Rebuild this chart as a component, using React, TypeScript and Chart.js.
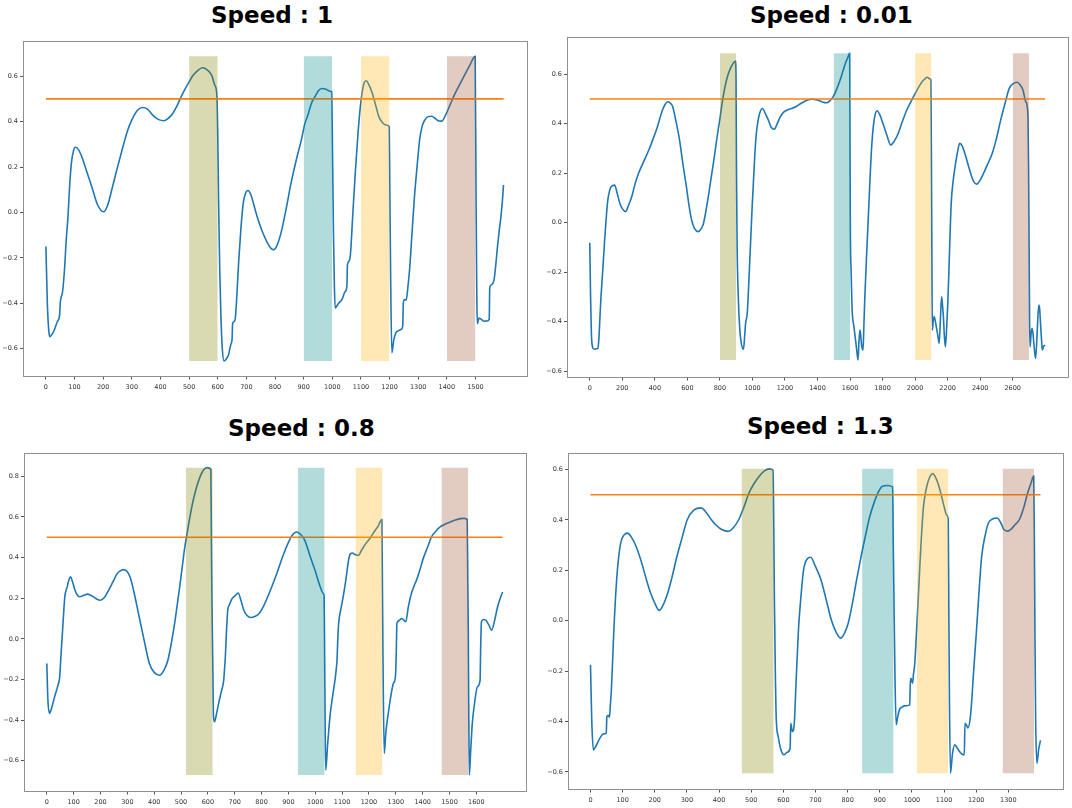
import React, { useEffect, useRef } from "react";
import { Chart, registerables } from "chart.js";

Chart.register(...registerables);

// series, [step, value]
const SPEED_1: [number, number][] = [
  [0, -0.15], [5, -0.4], [10, -0.52], [14, -0.547], [22, -0.535], [30, -0.515], [40, -0.48], [48, -0.45],
  [50, -0.4], [53, -0.375], [58, -0.35], [65, -0.25], [71, -0.12], [77, -0.02], [83, 0.12], [89, 0.217],
  [96, 0.27], [103, 0.287], [112, 0.28], [124, 0.25], [140, 0.19], [160, 0.114], [180, 0.035], [201, 0.003],
  [215, 0.03], [230, 0.1], [248, 0.19], [266, 0.275], [285, 0.36], [301, 0.41], [320, 0.45], [337, 0.462],
  [355, 0.455], [372, 0.43], [392, 0.41], [413, 0.404], [428, 0.415], [443, 0.436], [460, 0.475], [478, 0.524],
  [496, 0.566], [514, 0.604], [530, 0.625], [547, 0.637], [563, 0.628], [579, 0.604], [590, 0.56], [597, 0.517],
  [600, 0.35], [603, 0.05], [607, -0.25], [611, -0.45], [616, -0.6], [622, -0.654], [630, -0.645], [638, -0.625],
  [646, -0.58], [650, -0.56], [652, -0.49], [657, -0.48], [661, -0.47], [667, -0.36], [673, -0.22], [681, -0.07],
  [689, 0.04], [697, 0.085], [706, 0.097], [715, 0.08], [727, 0.03], [738, -0.02], [756, -0.085], [774, -0.135],
  [786, -0.158], [795, -0.164], [806, -0.148], [821, -0.09], [838, 0.01], [856, 0.129], [874, 0.23], [892, 0.319],
  [904, 0.39], [915, 0.429], [927, 0.48], [939, 0.509], [951, 0.535], [963, 0.546], [978, 0.543], [992, 0.534],
  [998, 0.531], [1001, 0.25], [1004, -0.076], [1007, -0.3], [1010, -0.42], [1022, -0.4], [1034, -0.383], [1044, -0.35],
  [1051, -0.325], [1053, -0.23], [1058, -0.215], [1063, -0.19], [1072, 0.0], [1081, 0.187], [1090, 0.35], [1098, 0.465],
  [1108, 0.555], [1118, 0.58], [1129, 0.56], [1140, 0.524], [1152, 0.47], [1163, 0.421], [1175, 0.396], [1187, 0.385],
  [1199, 0.378], [1201, 0.1], [1204, -0.3], [1208, -0.618], [1215, -0.56], [1222, -0.53], [1232, -0.52], [1240, -0.515],
  [1246, -0.5], [1248, -0.4], [1252, -0.383], [1258, -0.386], [1264, -0.33], [1270, -0.25], [1278, -0.1], [1287, 0.07],
  [1296, 0.2], [1305, 0.319], [1314, 0.38], [1323, 0.407], [1335, 0.422], [1347, 0.424], [1360, 0.413], [1372, 0.403],
  [1382, 0.402], [1394, 0.424], [1410, 0.47], [1429, 0.524], [1447, 0.568], [1465, 0.612], [1480, 0.648], [1494, 0.682],
  [1499, 0.688], [1502, 0.1], [1505, -0.4], [1507, -0.49], [1512, -0.465], [1520, -0.47], [1530, -0.479], [1540, -0.478],
  [1548, -0.471], [1550, -0.33], [1556, -0.318], [1565, -0.296], [1571, -0.23], [1577, -0.149], [1583, -0.08], [1589, -0.018],
  [1594, 0.05], [1598, 0.121],
];

const SPEED_001: [number, number][] = [
  [0, -0.081], [5, -0.3], [10, -0.45], [17, -0.502], [27, -0.512], [40, -0.51], [50, -0.508], [56, -0.47],
  [62, -0.39], [69, -0.3], [80, -0.19], [90, -0.084], [100, 0.01], [111, 0.092], [122, 0.13], [132, 0.146],
  [153, 0.152], [168, 0.12], [185, 0.078], [202, 0.055], [220, 0.045], [238, 0.07], [258, 0.105], [280, 0.16],
  [300, 0.2], [330, 0.245], [363, 0.294], [390, 0.34], [416, 0.388], [432, 0.425], [447, 0.456], [463, 0.478],
  [479, 0.489], [495, 0.484], [510, 0.469], [530, 0.41], [552, 0.334], [572, 0.24], [594, 0.146], [610, 0.07],
  [626, 0.011], [645, -0.025], [668, -0.036], [684, -0.025], [699, -0.003], [720, 0.07], [741, 0.159], [762, 0.25],
  [783, 0.348], [800, 0.42], [815, 0.489], [830, 0.545], [846, 0.59], [862, 0.62], [880, 0.643], [895, 0.654],
  [899, 0.6], [902, 0.2], [906, -0.1], [913, -0.3], [920, -0.407], [930, -0.481], [945, -0.512], [952, -0.46],
  [958, -0.407], [968, -0.367], [975, -0.28], [983, -0.164], [998, 0.06], [1014, 0.267], [1024, 0.36], [1035, 0.415],
  [1048, 0.45], [1062, 0.462], [1080, 0.44], [1098, 0.415], [1116, 0.385], [1134, 0.378], [1152, 0.4], [1172, 0.429],
  [1192, 0.447], [1214, 0.456], [1240, 0.462], [1266, 0.469], [1298, 0.482], [1329, 0.493], [1350, 0.498], [1371, 0.499],
  [1392, 0.497], [1413, 0.493], [1434, 0.487], [1455, 0.485], [1476, 0.493], [1497, 0.51], [1518, 0.54], [1539, 0.577],
  [1555, 0.61], [1571, 0.644], [1585, 0.666], [1598, 0.685], [1600, 0.3], [1602, -0.03], [1607, -0.2], [1613, -0.353],
  [1624, -0.42], [1634, -0.475], [1642, -0.52], [1649, -0.555], [1655, -0.48], [1661, -0.434], [1665, -0.45], [1670, -0.488],
  [1676, -0.512], [1680, -0.515], [1685, -0.42], [1691, -0.3], [1704, -0.1], [1718, 0.105], [1728, 0.25], [1739, 0.361],
  [1752, 0.43], [1766, 0.453], [1784, 0.435], [1802, 0.402], [1826, 0.355], [1850, 0.314], [1872, 0.33], [1896, 0.361],
  [1922, 0.41], [1949, 0.456], [1975, 0.49], [2001, 0.523], [2022, 0.548], [2043, 0.57], [2060, 0.582], [2075, 0.588],
  [2090, 0.582], [2097, 0.577], [2100, 0.3], [2103, -0.1], [2106, -0.434], [2111, -0.4], [2117, -0.38], [2122, -0.39],
  [2127, -0.407], [2138, -0.45], [2148, -0.488], [2155, -0.4], [2163, -0.3], [2168, -0.33], [2174, -0.38], [2180, -0.46],
  [2186, -0.502], [2193, -0.44], [2201, -0.326], [2210, -0.15], [2222, 0.078], [2236, 0.18], [2249, 0.24], [2262, 0.29],
  [2274, 0.321], [2290, 0.31], [2312, 0.267], [2330, 0.225], [2348, 0.186], [2364, 0.162], [2379, 0.156], [2400, 0.172],
  [2421, 0.2], [2448, 0.24], [2474, 0.28], [2500, 0.34], [2526, 0.415], [2552, 0.48], [2579, 0.543], [2603, 0.562],
  [2627, 0.568], [2645, 0.558], [2663, 0.537], [2680, 0.49], [2694, 0.435], [2698, 0.2], [2701, -0.1], [2704, -0.4],
  [2707, -0.502], [2713, -0.45], [2719, -0.427], [2725, -0.45], [2733, -0.51], [2741, -0.549], [2750, -0.45], [2755, -0.38],
  [2761, -0.333], [2766, -0.35], [2771, -0.407], [2777, -0.47], [2782, -0.515], [2790, -0.5], [2799, -0.495],
];

const SPEED_08: [number, number][] = [
  [0, -0.121], [4, -0.3], [10, -0.367], [18, -0.34], [29, -0.285], [40, -0.235], [48, -0.187], [51, -0.12],
  [54, -0.056], [60, 0.07], [67, 0.207], [72, 0.24], [76, 0.256], [82, 0.29], [88, 0.305], [96, 0.28],
  [105, 0.239], [114, 0.215], [123, 0.207], [138, 0.215], [152, 0.22], [163, 0.215], [174, 0.207], [187, 0.195],
  [199, 0.19], [215, 0.205], [230, 0.239], [246, 0.28], [262, 0.321], [275, 0.336], [287, 0.341], [300, 0.33],
  [312, 0.297], [328, 0.21], [344, 0.108], [363, -0.01], [382, -0.121], [400, -0.165], [420, -0.179], [436, -0.155],
  [451, -0.105], [464, -0.02], [476, 0.075], [486, 0.17], [495, 0.256], [505, 0.36], [514, 0.452], [524, 0.53],
  [533, 0.6], [545, 0.68], [558, 0.748], [570, 0.795], [583, 0.83], [598, 0.843], [611, 0.833], [613, 0.5],
  [615, 0.207], [618, -0.1], [621, -0.384], [625, -0.408], [632, -0.37], [640, -0.318], [650, -0.26], [659, -0.203],
  [662, -0.15], [665, -0.089], [669, 0.03], [674, 0.141], [681, 0.17], [690, 0.198], [700, 0.21], [713, 0.226],
  [723, 0.19], [734, 0.141], [746, 0.115], [759, 0.105], [775, 0.11], [791, 0.125], [807, 0.16], [823, 0.207],
  [842, 0.27], [861, 0.338], [880, 0.41], [898, 0.469], [914, 0.51], [930, 0.526], [945, 0.515], [961, 0.485],
  [980, 0.41], [999, 0.338], [1015, 0.27], [1030, 0.223], [1033, 0.21], [1035, -0.1], [1037, -0.45], [1039, -0.646],
  [1046, -0.52], [1056, -0.367], [1065, -0.28], [1075, -0.187], [1078, -0.15], [1081, -0.105], [1084, 0.0], [1087, 0.075],
  [1096, 0.15], [1106, 0.223], [1115, 0.3], [1122, 0.37], [1127, 0.407], [1132, 0.42], [1138, 0.423], [1148, 0.415],
  [1160, 0.411], [1174, 0.44], [1188, 0.469], [1204, 0.495], [1219, 0.526], [1234, 0.555], [1248, 0.587], [1250, 0.3],
  [1253, -0.2], [1257, -0.564], [1263, -0.46], [1270, -0.384], [1277, -0.32], [1283, -0.269], [1291, -0.22], [1299, -0.179],
  [1302, -0.05], [1304, 0.075], [1312, 0.09], [1321, 0.1], [1329, 0.093], [1337, 0.084], [1347, 0.16], [1358, 0.223],
  [1368, 0.26], [1377, 0.289], [1390, 0.34], [1402, 0.395], [1418, 0.45], [1433, 0.502], [1449, 0.53], [1465, 0.551],
  [1484, 0.565], [1503, 0.575], [1522, 0.585], [1541, 0.592], [1555, 0.593], [1566, 0.587], [1568, 0.3], [1570, 0.043],
  [1572, -0.4], [1574, -0.67], [1579, -0.55], [1585, -0.416], [1594, -0.31], [1604, -0.236], [1614, -0.203], [1616, -0.05],
  [1619, 0.084], [1627, 0.095], [1635, 0.092], [1646, 0.07], [1657, 0.043], [1668, 0.09], [1679, 0.157], [1689, 0.2],
  [1698, 0.231],
];

const SPEED_13: [number, number][] = [
  [0, -0.175], [4, -0.4], [9, -0.513], [16, -0.5], [24, -0.479], [32, -0.46], [40, -0.449], [49, -0.446],
  [51, -0.38], [55, -0.375], [59, -0.383], [62, -0.33], [65, -0.274], [70, -0.12], [74, 0.0], [78, 0.097],
  [85, 0.22], [94, 0.309], [104, 0.34], [115, 0.348], [128, 0.33], [142, 0.295], [158, 0.235], [174, 0.163],
  [187, 0.11], [200, 0.07], [214, 0.041], [225, 0.06], [237, 0.097], [253, 0.17], [269, 0.256], [285, 0.33],
  [301, 0.401], [322, 0.44], [344, 0.448], [360, 0.43], [376, 0.401], [392, 0.378], [408, 0.362], [429, 0.355],
  [445, 0.37], [461, 0.401], [477, 0.45], [493, 0.507], [509, 0.545], [525, 0.574], [541, 0.595], [557, 0.603],
  [568, 0.597], [570, 0.4], [572, 0.097], [575, -0.2], [578, -0.393], [584, -0.46], [591, -0.506], [602, -0.532],
  [612, -0.522], [621, -0.506], [623, -0.407], [628, -0.44], [634, -0.407], [640, -0.23], [647, -0.036], [655, 0.1],
  [663, 0.203], [674, 0.245], [685, 0.252], [700, 0.215], [717, 0.163], [733, 0.085], [749, 0.004], [764, -0.045],
  [778, -0.069], [790, -0.05], [802, -0.009], [815, 0.07], [828, 0.163], [841, 0.25], [855, 0.335], [868, 0.41],
  [882, 0.468], [895, 0.51], [908, 0.534], [924, 0.537], [940, 0.531], [942, 0.3], [944, 0.097], [947, -0.2],
  [951, -0.413], [956, -0.38], [961, -0.354], [969, -0.343], [977, -0.338], [993, -0.334], [995, -0.25], [997, -0.228],
  [1002, -0.248], [1005, -0.21], [1009, -0.168], [1014, -0.05], [1020, 0.097], [1028, 0.3], [1036, 0.454], [1044, 0.52],
  [1052, 0.56], [1065, 0.584], [1075, 0.565], [1084, 0.534], [1092, 0.495], [1100, 0.454], [1108, 0.42], [1113, 0.401],
  [1115, 0.0], [1117, -0.35], [1120, -0.605], [1126, -0.53], [1133, -0.493], [1141, -0.505], [1148, -0.519], [1156, -0.53],
  [1163, -0.532], [1165, -0.407], [1170, -0.415], [1174, -0.426], [1183, -0.367], [1192, -0.2], [1201, -0.036], [1209, 0.12],
  [1217, 0.256], [1228, 0.34], [1238, 0.388], [1252, 0.405], [1265, 0.408], [1276, 0.39], [1286, 0.362], [1297, 0.356],
  [1307, 0.362], [1320, 0.38], [1334, 0.401], [1348, 0.45], [1360, 0.507], [1370, 0.545], [1379, 0.574], [1381, 0.3],
  [1383, -0.1], [1385, -0.4], [1389, -0.566], [1394, -0.513], [1400, -0.475],
];

// shaded windows [from, to]
const BANDS_1: [number, number][] = [[500, 600], [900, 1000], [1100, 1200], [1400, 1500]];
const BANDS_001: [number, number][] = [[800, 900], [1500, 1600], [2000, 2100], [2600, 2700]];
const BANDS_08: [number, number][] = [[518, 618], [935, 1035], [1150, 1250], [1470, 1570]];
const BANDS_13: [number, number][] = [[470, 570], [845, 943], [1015, 1113], [1282, 1380]];

const THRESHOLD = 0.5;

const X_TICKS_1 = [0, 100, 200, 300, 400, 500, 600, 700, 800, 900, 1000, 1100, 1200, 1300, 1400, 1500];
const X_TICKS_001 = [0, 200, 400, 600, 800, 1000, 1200, 1400, 1600, 1800, 2000, 2200, 2400, 2600];
const X_TICKS_08 = [0, 100, 200, 300, 400, 500, 600, 700, 800, 900, 1000, 1100, 1200, 1300, 1400, 1500, 1600];
const X_TICKS_13 = [0, 100, 200, 300, 400, 500, 600, 700, 800, 900, 1000, 1100, 1200, 1300];
const Y_TICKS = [-0.6, -0.4, -0.2, 0, 0.2, 0.4, 0.6];
const Y_TICKS_08 = [-0.6, -0.4, -0.2, 0, 0.2, 0.4, 0.6, 0.8];

const BAND_COLORS = [
  "rgba(128, 128, 0, 0.3)",
  "rgba(0, 139, 139, 0.3)",
  "rgba(255, 180, 10, 0.3)",
  "rgba(160, 82, 45, 0.3)",
];

const FONT = "'DejaVu Sans', 'Liberation Sans', sans-serif";
const Y_AXIS_W = 24;
const X_AXIS_H = 22;
const PAD = 6;

interface Box { left: number; top: number; right: number; bottom: number }

interface PanelProps {
  series: [number, number][];
  bands: [number, number][];
  xTicks: number[];
  yTicks: number[];
  xRange: [number, number];
  yRange: [number, number];
  box: Box;
}

const fmtY = (v: number) => {
  const s = Math.abs(v).toFixed(1);
  return v < -1e-9 ? "\u2212" + s : s;
};

// frame on all four sides, like matplotlib spines
const framePlugin = {
  id: "frame",
  afterDraw(chart: Chart) {
    const { ctx, chartArea: a } = chart;
    ctx.save();
    ctx.strokeStyle = "#8f8f8f";
    ctx.lineWidth = 1;
    ctx.strokeRect(Math.round(a.left) + 0.5, Math.round(a.top) + 0.5, Math.round(a.right - a.left), Math.round(a.bottom - a.top));
    ctx.restore();
  },
};

const Panel: React.FC<PanelProps> = ({ series, bands, xTicks, yTicks, xRange, yRange, box }) => {
  const canvasRef = useRef<HTMLCanvasElement>(null);
  const chartRef = useRef<Chart | null>(null);

  const width = box.right - box.left + Y_AXIS_W + PAD;
  const height = box.bottom - box.top + X_AXIS_H + PAD;

  useEffect(() => {
    const ctx = canvasRef.current?.getContext("2d");
    if (!ctx) return;
    if (chartRef.current) chartRef.current.destroy();

    const ys = series.map((p) => p[1]);
    const lo = Math.min(...ys);
    const hi = Math.max(...ys);
    const last = series[series.length - 1][0];

    const bandSets = bands.map(([a, b], i) => ({
      data: [{ x: a, y: hi }, { x: b, y: hi }],
      borderWidth: 0,
      pointRadius: 0,
      backgroundColor: BAND_COLORS[i],
      fill: { value: lo },
    }));

    chartRef.current = new Chart(ctx, {
      type: "line",
      data: {
        datasets: [
          ...bandSets,
          {
            data: [{ x: 0, y: THRESHOLD }, { x: last, y: THRESHOLD }],
            borderColor: "#ff7f0e",
            borderWidth: 1.6,
            pointRadius: 0,
            fill: false,
          },
          {
            data: series.map(([x, y]) => ({ x, y })),
            borderColor: "#1f77b4",
            borderWidth: 1.6,
            pointRadius: 0,
            fill: false,
            cubicInterpolationMode: "monotone",
          },
        ] as any,
      },
      options: {
        responsive: false,
        animation: false,
        events: [],
        layout: { padding: { top: PAD, right: PAD, left: 0, bottom: 0 } },
        plugins: { legend: { display: false }, tooltip: { enabled: false }, title: { display: false } },
        scales: {
          x: {
            type: "linear",
            min: xRange[0],
            max: xRange[1],
            afterBuildTicks: (axis: any) => {
              axis.ticks = xTicks.map((v) => ({ value: v }));
            },
            afterFit: (axis: any) => {
              axis.height = X_AXIS_H;
            },
            grid: { drawOnChartArea: false, drawTicks: true, tickLength: 3.5, color: "#555" },
            border: { display: false },
            ticks: {
              autoSkip: false,
              maxRotation: 0,
              padding: 4,
              color: "#333",
              font: { size: 6.5, family: FONT },
              callback: (v: any) => String(v),
            },
          },
          y: {
            type: "linear",
            min: yRange[0],
            max: yRange[1],
            afterBuildTicks: (axis: any) => {
              axis.ticks = yTicks.map((v) => ({ value: v }));
            },
            afterFit: (axis: any) => {
              axis.width = Y_AXIS_W;
            },
            grid: { drawOnChartArea: false, drawTicks: true, tickLength: 3, color: "#555" },
            border: { display: false },
            ticks: {
              padding: 2,
              color: "#333",
              font: { size: 6.5, family: FONT },
              callback: (v: any) => fmtY(Number(v)),
            },
          },
        },
      },
      plugins: [framePlugin],
    });

    return () => {
      if (chartRef.current) {
        chartRef.current.destroy();
        chartRef.current = null;
      }
    };
  }, [series, bands, xTicks, yTicks, xRange, yRange]);

  return (
    <canvas
      ref={canvasRef}
      width={width}
      height={height}
      style={{ position: "absolute", left: box.left - Y_AXIS_W, top: box.top - PAD, width, height }}
    />
  );
};

const Title: React.FC<{ text: string; left: number; baseline: number }> = ({ text, left, baseline }) => (
  <div
    style={{
      position: "absolute",
      left,
      top: baseline - 19.5,
      font: `bold 23px ${FONT}`,
      lineHeight: "23px",
      color: "#000",
      whiteSpace: "nowrap",
    }}
  >
    {text}
  </div>
);

export default function App() {
  return (
    <div style={{ position: "relative", width: 1072, height: 808, background: "#fff", overflow: "hidden" }}>
      <style>{"body{margin:0;background:#fff}"}</style>
      <Title text="Speed : 1" left={211} baseline={23} />
      <Title text="Speed : 0.01" left={750} baseline={23} />
      <Title text="Speed : 0.8" left={228} baseline={436} />
      <Title text="Speed : 1.3" left={747} baseline={434} />
      <Panel
        series={SPEED_1}
        bands={BANDS_1}
        xTicks={X_TICKS_1}
        yTicks={Y_TICKS}
        xRange={[-80, 1680]}
        yRange={[-0.72, 0.755]}
        box={{ left: 23, top: 41, right: 527, bottom: 376 }}
      />
      <Panel
        series={SPEED_001}
        bands={BANDS_001}
        xTicks={X_TICKS_001}
        yTicks={Y_TICKS}
        xRange={[-140, 2940]}
        yRange={[-0.624, 0.751]}
        box={{ left: 567, top: 37, right: 1068, bottom: 377 }}
      />
      <Panel
        series={SPEED_08}
        bands={BANDS_08}
        xTicks={X_TICKS_08}
        yTicks={Y_TICKS_08}
        xRange={[-85, 1785]}
        yRange={[-0.749, 0.915]}
        box={{ left: 24, top: 453, right: 526, bottom: 791 }}
      />
      <Panel
        series={SPEED_13}
        bands={BANDS_13}
        xTicks={X_TICKS_13}
        yTicks={Y_TICKS}
        xRange={[-70, 1470]}
        yRange={[-0.668, 0.666]}
        box={{ left: 568, top: 453, right: 1063, bottom: 789 }}
      />
    </div>
  );
}
